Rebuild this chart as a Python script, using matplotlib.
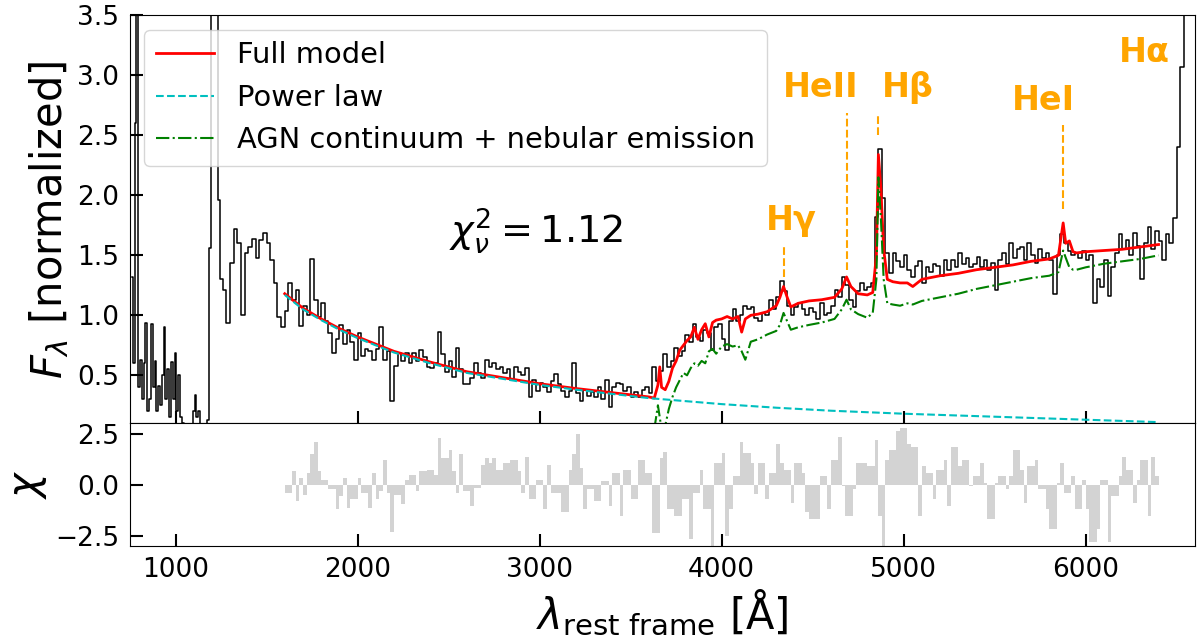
import numpy as np
import matplotlib
matplotlib.use("Agg")
import matplotlib.pyplot as plt

# observed spectrum, blue part (10 A bins, 760-1240 A)
obs_lam_blue = np.arange(760, 1250, 10)
obs_flux_blue = [
    1.32, 0.60, 2.60, 4.00, 0.40,
    0.63, 0.30, 0.60, 0.94, 0.20,
    0.30, 0.93, 0.40, 0.62, 0.20,
    0.41, 0.25, 0.50, 0.90, 0.30,
    0.55, 0.15, 0.61, 0.30, 0.69,
    0.20, 0.50, 0.15, 0.10, 0.05,
    0.05, 0.05, 0.05, 0.05, 0.20,
    0.34, 0.15, 0.20, 0.05, 0.05,
    0.05, 0.05, 0.13, 1.56, 5.00,
    8.00, 8.00, 5.00, 1.96,
]

# observed spectrum, 20 A bins from 1250 A (one row per 500 A)
obs_lam_red = np.arange(1250, 6620, 20)
obs_flux_red = [
    1.30, 1.21, 0.94, 1.44, 1.72, 1.60, 1.00, 1.52, 1.57, 1.64, 1.48, 1.63, 1.69, 1.60, 1.46, 1.27, 0.99, 0.90, 1.04, 1.27, 1.13, 1.21, 0.91, 1.08, 1.00,
    1.47, 1.13, 0.99, 1.10, 0.95, 0.85, 0.69, 0.80, 0.92, 0.76, 0.88, 0.78, 0.63, 0.85, 0.66, 0.72, 0.70, 0.63, 0.72, 0.90, 0.63, 0.70, 0.29, 0.58, 0.69,
    0.62, 0.69, 0.60, 0.69, 0.62, 0.71, 0.65, 0.57, 0.56, 0.60, 0.86, 0.68, 0.53, 0.62, 0.49, 0.73, 0.55, 0.43, 0.43, 0.48, 0.60, 0.52, 0.48, 0.63, 0.57,
    0.60, 0.55, 0.57, 0.52, 0.55, 0.46, 0.57, 0.53, 0.50, 0.56, 0.32, 0.46, 0.37, 0.44, 0.40, 0.36, 0.45, 0.51, 0.43, 0.37, 0.32, 0.37, 0.60, 0.35, 0.29,
    0.38, 0.33, 0.36, 0.32, 0.40, 0.30, 0.46, 0.24, 0.40, 0.44, 0.43, 0.37, 0.40, 0.32, 0.36, 0.32, 0.38, 0.40, 0.35, 0.57, 0.45, 0.54, 0.68, 0.57, 0.62,
    0.73, 0.66, 0.70, 0.84, 0.78, 0.93, 0.82, 0.79, 0.88, 0.85, 0.71, 0.90, 0.93, 0.80, 0.71, 0.95, 1.05, 0.95, 1.00, 1.08, 1.05, 1.07, 0.98, 0.95, 1.02,
    1.00, 1.13, 1.05, 1.15, 1.29, 1.20, 1.08, 1.00, 1.07, 1.10, 1.05, 1.00, 1.06, 1.03, 0.97, 1.10, 1.00, 1.02, 1.08, 1.21, 1.15, 1.32, 1.25, 1.13, 1.07,
    1.20, 1.27, 1.21, 1.24, 1.27, 1.82, 2.39, 1.98, 1.52, 1.35, 1.52, 1.45, 1.40, 1.50, 1.38, 1.32, 1.41, 1.45, 1.27, 1.40, 1.36, 1.43, 1.41, 1.33, 1.46,
    1.38, 1.46, 1.40, 1.52, 1.43, 1.48, 1.40, 1.43, 1.49, 1.40, 1.46, 1.38, 1.44, 1.21, 1.46, 1.52, 1.43, 1.60, 1.48, 1.55, 1.57, 1.46, 1.60, 1.50, 1.44,
    1.55, 1.48, 1.52, 1.46, 1.18, 1.50, 1.68, 1.60, 1.54, 1.50, 1.52, 1.48, 1.54, 1.46, 1.50, 1.10, 1.30, 1.24, 1.46, 1.16, 1.40, 1.52, 1.68, 1.55, 1.63,
    1.50, 1.69, 1.58, 1.30, 1.60, 1.74, 1.55, 1.70, 1.62, 1.46, 1.68, 1.60, 1.81, 2.40, 3.07, 4.50, 6.00, 6.00, 5.00,
]

# full model (red)
full_lam = [1600, 1700, 1800, 1900, 2000, 2200, 2400, 2600, 2800, 3000, 3200, 3400, 3600,
            3630, 3650, 3660, 3670, 3690, 3710, 3730, 3750, 3770, 3790,
            3810, 3830, 3850, 3870, 3890, 3910, 3930, 3950, 3970, 4000,
            4030, 4060, 4090, 4110, 4130, 4160, 4200, 4250, 4300, 4320,
            4340, 4360, 4380, 4420, 4480, 4550, 4620, 4660, 4686, 4710,
            4750, 4800, 4830, 4850, 4861, 4875, 4890, 4910, 4940, 4980,
            5020, 5050, 5100, 5200, 5300, 5400, 5500, 5600, 5700, 5800,
            5850, 5876, 5890, 5910, 5930, 5950, 6000, 6100, 6200, 6300, 6400]
full_flux = [1.18, 1.06, 0.97, 0.89, 0.82, 0.70, 0.61, 0.53, 0.48, 0.43, 0.39, 0.355, 0.32,
             0.31, 0.42, 0.57, 0.40, 0.38, 0.45, 0.56, 0.62, 0.71, 0.75,
             0.79, 0.82, 0.90, 0.80, 0.88, 0.93, 0.82, 0.94, 0.96, 0.97,
             0.99, 0.97, 0.99, 0.86, 0.97, 1.00, 1.01, 1.03, 1.08, 1.15,
             1.24, 1.15, 1.07, 1.10, 1.12, 1.13, 1.15, 1.22, 1.32, 1.24,
             1.18, 1.17, 1.19, 1.50, 2.34, 2.05, 1.55, 1.30, 1.28, 1.27,
             1.27, 1.24, 1.30, 1.33, 1.35, 1.38, 1.40, 1.42, 1.45, 1.47,
             1.50, 1.77, 1.60, 1.62, 1.53, 1.52, 1.53, 1.54, 1.55, 1.57, 1.59]

# power law (cyan)
pl_lam = [1600, 1700, 1800, 1900, 2000, 2200, 2400, 2600, 2800, 3000, 3200,
          3400, 3600, 3800, 4000, 4300, 4600, 5000, 5500, 6000, 6400]
pl_flux = [1.17, 1.05, 0.96, 0.88, 0.81, 0.69, 0.60, 0.52, 0.47, 0.42, 0.38,
           0.345, 0.31, 0.285, 0.26, 0.23, 0.205, 0.18, 0.155, 0.13, 0.11]

# AGN continuum + nebular emission (green)
agn_lam = full_lam[13:]
agn_flux = [0.05, 0.25, 0.15, 0.05, 0.08, 0.22, 0.32, 0.40, 0.46, 0.52,
            0.50, 0.56, 0.60, 0.58, 0.62, 0.60, 0.70, 0.72, 0.68, 0.74,
            0.76, 0.74, 0.75, 0.70, 0.63, 0.78, 0.80, 0.84, 0.87, 0.92,
            1.02, 0.95, 0.88, 0.90, 0.92, 0.94, 0.97, 1.05, 1.13, 1.05,
            1.01, 0.98, 1.02, 1.30, 2.15, 1.80, 1.30, 1.10, 1.09, 1.08,
            1.10, 1.09, 1.12, 1.15, 1.18, 1.22, 1.25, 1.28, 1.31, 1.33,
            1.36, 1.54, 1.48, 1.40, 1.38, 1.38, 1.40, 1.43, 1.45, 1.47, 1.50]

# residuals chi, 20 A bins 1610-6390
chi_lam = np.arange(1610, 6400, 20)
chi_val = [
    -0.4, -0.4, 0.65, -0.8, 0.32, -0.5, 0.56, 1.5, 2.1, 0.65, 0.24, 0.24, -0.24, -0.24, -1.2, -0.56, 0.32, -1.13, -0.73, -0.73, 0.32, -0.4, -0.4, -1.13, 0.56,
    -0.73, -0.32, 1.2, -0.4, -2.34, -0.5, -0.5, -0.97, 0.24, 0.48, 0.48, -0.32, 0.65, 0.65, 0.73, 0.73, 0.48, 2.26, 1.29, 1.29, 1.7, 0.65, -0.4, 1.5, -0.32,
    -0.32, -1.05, -0.16, -0.16, 0.97, 1.29, 1.05, 1.29, 0.73, 0.73, 1.05, 1.05, 1.2, 1.2, 0.65, -0.4, 1.37, -0.73, -0.73, 0.24, 0.24, -1.2, 0.97, -0.4, -0.4,
    -0.4, -1.37, -1.37, 0.73, 1.5, 2.5, 0.8, -1.2, -0.24, -0.24, -0.8, -0.8, 0.16, 0.16, -1.05, 0.56, 0.56, -1.53, 0.73, 0.73, -0.73, -0.73, 1.2, 1.2, 0.56,
    0.56, -2.4, -2.4, 1.29, 1.6, -1.2, -1.2, -1.53, -1.53, -0.73, -0.73, -2.66, -0.4, -0.4, 0.73, -1.2, -1.2, -3.0, 1.05, 1.05, 1.53, -2.5, -1.2, 0.4, 0.4,
    2.1, 1.53, 1.53, 1.05, -0.48, 1.05, 1.05, -0.73, 0.56, 0.56, 2.0, 1.05, 0.73, 0.73, -0.89, 1.05, 1.05, 0.56, -1.37, -1.7, -1.7, -1.7, 0.4, 0.4, -1.2,
    1.2, 1.2, 2.34, -0.08, -1.53, -1.53, -0.24, 1.05, 1.05, 1.05, 0.89, 0.89, 2.18, -1.53, -3.0, 1.2, 1.7, 1.7, 2.6, 2.75, 2.75, 2.0, 1.85, 1.85, -1.53,
    0.89, 0.56, 0.56, -0.73, 0.73, 0.73, 1.2, -1.05, 1.85, 1.85, 0.89, 1.2, 1.2, -0.08, 0.4, 0.4, 1.05, 0.08, -1.7, -1.7, 0.08, 0.4, 0.4, -0.24, 0.4,
    1.7, 1.7, 0.73, -0.89, 0.89, 0.89, 1.2, -0.24, -0.24, -1.2, -2.18, -2.18, 0.08, 1.05, -0.4, -0.4, 0.4, -1.2, -1.2, 0.24, -1.2, -2.82, -2.82, -2.18, 0.24,
    0.24, -2.82, -0.56, -0.56, 0.4, 1.37, 0.73, 0.73, -0.89, 0.24, 1.2, 1.2, -1.53, 1.37, 0.4,
]

line_names = ["H\u03b3", "HeII", "H\u03b2", "HeI", "H\u03b1"]
line_lam = [4340, 4686, 4861, 5876, 6563]

obs_lam = np.concatenate([obs_lam_blue, obs_lam_red])
obs_flux = np.concatenate([obs_flux_blue, obs_flux_red])

fig, (ax, axr) = plt.subplots(2, 1, figsize=(11.97, 6.39), dpi=100, sharex=True,
                              gridspec_kw={"height_ratios": [10, 3]})
fig.subplots_adjust(left=0.1086, right=0.9983, top=0.976, bottom=0.146, hspace=0)

ax.plot(obs_lam, obs_flux, color="k", lw=1.1, drawstyle="steps-mid")
ax.plot(full_lam, full_flux, color="r", lw=2, label="Full model")
ax.plot(pl_lam, pl_flux, color="c", lw=1.5, ls="--", label="Power law")
ax.plot(agn_lam, agn_flux, color="g", lw=1.5, ls="-.", label="AGN continuum + nebular emission")

# emission line labels: (text x, text y, dash bottom, dash top)
label_pos = [(4380, 1.71, 1.32, 1.57), (4545, 2.82, 1.38, 2.69), (5024, 2.82, 2.50, 2.68),
             (5766, 2.71, 1.89, 2.59), (6322, 3.11, None, None)]
for name, lam, (tx, ty, y0, y1) in zip(line_names, line_lam, label_pos):
    ax.text(tx, ty, name, color="orange", fontsize=24, fontweight="bold", ha="center", va="baseline")
    if y0 is not None:
        ax.plot([lam, lam], [y0, y1], color="orange", ls="--", lw=1.5)

ax.text(2500, 1.6, r"$\chi^2_\nu = 1.12$", fontsize=27.5, va="baseline")

ax.set_ylim(0.1, 3.5)
ax.set_xlim(750, 6600)
ax.set_yticks([0.5, 1.0, 1.5, 2.0, 2.5, 3.0, 3.5])
ax.set_ylabel(r"$F_\lambda$ [normalized]", fontsize=30)
ax.legend(loc="upper left", fontsize=20.8)

axr.bar(chi_lam, chi_val, width=20, color="lightgrey", lw=0)
axr.set_ylim(-3, 3)
axr.set_yticks([-2.5, 0.0, 2.5])
axr.set_xticks([1000, 2000, 3000, 4000, 5000, 6000])
axr.set_ylabel(r"$\chi$", fontsize=30)
axr.set_xlabel(r"$\lambda_{\rm rest\ frame}$ [Å]", fontsize=30)

for a in (ax, axr):
    a.tick_params(direction="in", length=9, width=1.5, labelsize=19, pad=8)

fig.savefig("out.png", dpi=100)
